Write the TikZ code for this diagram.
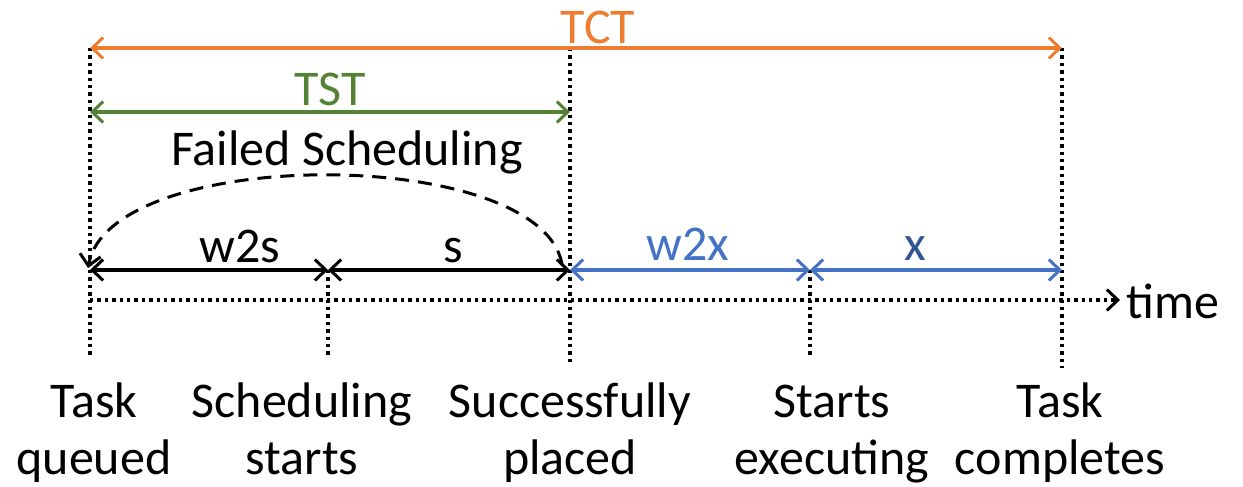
\documentclass[tikz,border=0pt]{standalone}
\usepackage{fontspec}
\setmainfont{Carlito}
\usetikzlibrary{arrows.meta}
\definecolor{ocol}{HTML}{ED7D31}
\definecolor{gcol}{HTML}{548235}
\definecolor{bcol}{HTML}{4472C4}
\definecolor{dbcol}{HTML}{2F5597}
\begin{document}
\begin{tikzpicture}[x=0.5pt,y=-0.5pt,
  >={Straight Barb[length=5.5pt,width=10.5pt,line width=1.5pt]},
  span/.style={line width=1.8pt,<->},
  guide/.style={line width=1.7pt,dash pattern=on 1.7pt off 2pt},
  lbl/.style={font=\fontsize{25pt}{30pt}\selectfont,inner sep=0pt,anchor=base},
  ev/.style={font=\fontsize{25pt}{28.5pt}\selectfont,inner sep=0pt,align=center,anchor=base}]
\useasboundingbox (0,0) rectangle (1243,487);
% event points on the time axis
\coordinate (a0) at (90,300);
\coordinate (a1) at (328,300);
\coordinate (a2) at (570,300);
\coordinate (a3) at (810,300);
\coordinate (a4) at (1062,300);
\coordinate (aend) at (1120,300);
% tops / bottoms of guide lines
\coordinate (u0) at (90,48);
\coordinate (u2) at (570,48);
\coordinate (u4) at (1062,48);
\coordinate (v2) at (570,112);
\coordinate (w0) at (90,270);
\coordinate (w1) at (328,270);
\coordinate (w2) at (570,270);
\coordinate (w3) at (810,270);
\coordinate (w4) at (1062,270);
\coordinate (d0) at (90,358);
\coordinate (d1) at (328,358);
\coordinate (d2) at (570,362);
\coordinate (d3) at (810,358);
\coordinate (d4) at (1062,368);
\coordinate (t0) at (90,112);
% guide lines
\draw[guide] (u0) -- (d0);
\draw[guide] (w1) -- (d1);
\draw[guide] (u2) -- (d2);
\draw[guide] (w3) -- (d3);
\draw[guide] (u4) -- (d4);
\draw[guide,->] (a0) -- (aend);
\node[lbl,anchor=base west] (time) at (1126,318) {time};
% spans
\draw[span,ocol] (u0) -- (u4);
\node[lbl,text=ocol] (tct) at (598,43) {TCT};
\draw[span,gcol] (t0) -- (v2);
\node[lbl,text=gcol] (tst) at (330,105) {TST};
\draw[span,black] (w0) -- (w1);
\draw[span,black] (w1) -- (w2);
\draw[span,bcol] (w2) -- (w3);
\draw[span,bcol] (w3) -- (w4);
\node[lbl] (w2s) at (240,262) {w2s};
\node[lbl] (s) at (453,262) {s};
\node[lbl,text=bcol] (w2x) at (688,260) {w2x};
\node[lbl,text=dbcol] (x) at (915,260) {x};
% failed scheduling loop
\coordinate (fs1) at (562,264);
\coordinate (fs0) at (88,268);
\draw[line width=1.5pt,dash pattern=on 7pt off 4.5pt,->]
  (fs1) .. controls (540,145) and (110,145) .. (fs0);
\node[lbl] (fail) at (347,165) {Failed Scheduling};
% event labels
\node[ev] (e0) at (94,474) {Task\\queued};
\node[ev] (e1) at (302,474) {Scheduling\\starts};
\node[ev] (e2) at (570,474) {Successfully\\placed};
\node[ev] (e3) at (832,474) {Starts\\executing};
\node[ev] (e4) at (1060,474) {Task\\completes};
\end{tikzpicture}
\end{document}
